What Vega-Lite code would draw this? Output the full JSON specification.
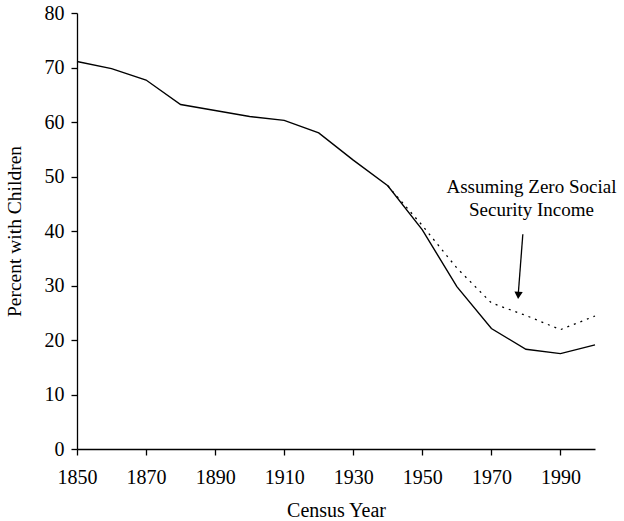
{
  "$schema": "https://vega.github.io/schema/vega-lite/v6.json",
  "width": 518,
  "height": 436,
  "autosize": {"type": "none"},
  "padding": {"left": 77, "top": 13, "right": 29, "bottom": 72},
  "background": "white",
  "config": {
    "view": {"stroke": null},
    "font": "Liberation Serif",
    "axis": {"grid": false, "labelFlush": false, "labelOverlap": false, "domainColor": "black", "tickColor": "black", "labelColor": "black", "titleColor": "black", "labelFont": "Liberation Serif", "titleFont": "Liberation Serif", "titleFontWeight": "normal", "labelFontSize": 20, "titleFontSize": 20, "tickSize": 6, "domainWidth": 1.3, "tickWidth": 1.3}
  },
  "datasets": {
    "actual": [
      {"year": 1850, "pct": 71.1}, {"year": 1860, "pct": 69.8}, {"year": 1870, "pct": 67.7},
      {"year": 1880, "pct": 63.2}, {"year": 1890, "pct": 62.1}, {"year": 1900, "pct": 61.0},
      {"year": 1910, "pct": 60.3}, {"year": 1920, "pct": 58.0}, {"year": 1930, "pct": 53.0},
      {"year": 1940, "pct": 48.3}, {"year": 1950, "pct": 40.2}, {"year": 1960, "pct": 29.8},
      {"year": 1970, "pct": 22.1}, {"year": 1980, "pct": 18.3}, {"year": 1990, "pct": 17.5},
      {"year": 2000, "pct": 19.1}
    ],
    "zeross": [
      {"year": 1940, "pct": 48.3}, {"year": 1950, "pct": 41.0}, {"year": 1960, "pct": 33.2},
      {"year": 1970, "pct": 26.8}, {"year": 1980, "pct": 24.5}, {"year": 1990, "pct": 21.9},
      {"year": 2000, "pct": 24.4}
    ],
    "label": [
      {"year": 1981.6, "pct": 48.0, "text": "Assuming Zero Social"},
      {"year": 1981.6, "pct": 43.8, "text": "Security Income"}
    ],
    "arrow": [
      {"year": 1979.1, "pct": 39.4, "year2": 1977.8, "pct2": 28.6}
    ],
    "arrowhead": [
      {"year": 1977.8, "pct": 28.2}
    ]
  },
  "layer": [
    {
      "data": {"name": "actual"},
      "mark": {"type": "line", "color": "black", "strokeWidth": 1.4},
      "encoding": {
        "x": {"field": "year", "type": "quantitative", "scale": {"domain": [1850, 2000], "nice": false, "zero": false},
          "axis": {"title": "Census Year", "values": [1850,1860,1870,1880,1890,1900,1910,1920,1930,1940,1950,1960,1970,1980,1990,2000], "labelExpr": "datum.value % 20 == 10 ? datum.value + '' : ''", "labelPadding": 12, "titlePadding": 13}},
        "y": {"field": "pct", "type": "quantitative", "scale": {"domain": [0, 80], "nice": false},
          "axis": {"title": "Percent with Children", "titleFontSize": 19.5, "values": [0,10,20,30,40,50,60,70,80], "labelPadding": 7, "titlePadding": 20}}
      }
    },
    {
      "data": {"name": "zeross"},
      "mark": {"type": "line", "color": "black", "strokeWidth": 1.3, "strokeDash": [2, 5]},
      "encoding": {
        "x": {"field": "year", "type": "quantitative"},
        "y": {"field": "pct", "type": "quantitative"}
      }
    },
    {
      "data": {"name": "label"},
      "mark": {"type": "text", "font": "Liberation Serif", "fontSize": 19, "color": "black", "align": "center", "baseline": "middle"},
      "encoding": {
        "x": {"field": "year", "type": "quantitative"},
        "y": {"field": "pct", "type": "quantitative"},
        "text": {"field": "text"}
      }
    },
    {
      "data": {"name": "arrow"},
      "mark": {"type": "rule", "color": "black", "strokeWidth": 1.3},
      "encoding": {
        "x": {"field": "year", "type": "quantitative"},
        "y": {"field": "pct", "type": "quantitative"},
        "x2": {"field": "year2"},
        "y2": {"field": "pct2"}
      }
    },
    {
      "data": {"name": "arrowhead"},
      "mark": {"type": "point", "shape": "triangle-down", "filled": true, "color": "black", "size": 70, "angle": 4, "opacity": 1},
      "encoding": {
        "x": {"field": "year", "type": "quantitative"},
        "y": {"field": "pct", "type": "quantitative"}
      }
    }
  ]
}
